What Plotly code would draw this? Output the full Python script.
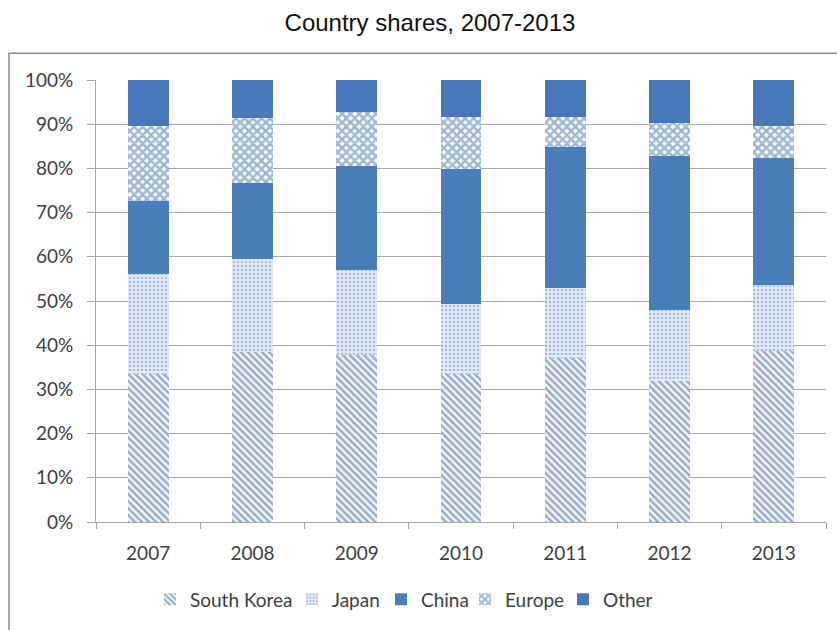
import plotly.graph_objects as go

years = ["2007", "2008", "2009", "2010", "2011", "2012", "2013"]
south_korea = [33.5, 38.4, 37.8, 33.5, 37.2, 31.8, 38.6]
japan = [22.7, 21.2, 19.3, 15.8, 15.8, 16.1, 15.1]
china = [16.5, 17.0, 23.4, 30.6, 31.9, 34.9, 28.7]
europe = [16.8, 14.8, 12.2, 11.7, 6.7, 7.5, 7.1]
other = [10.5, 8.6, 7.3, 8.4, 8.4, 9.7, 10.5]
y_ticks = [0, 10, 20, 30, 40, 50, 60, 70, 80, 90, 100]
y_tick_labels = ["0%", "10%", "20%", "30%", "40%", "50%",
                 "60%", "70%", "80%", "90%", "100%"]

W, H = 837, 630
L, R, T, B = 96, 11, 80, 105
pw, ph = W - L - R, H - T - B

text_font = dict(family="Lato, Open Sans, sans-serif", size=19, color="#404040")

# each legend entry gets its own legend box so the spacing stays tight
legend_text_x = [192, 334, 423, 507, 605]
legend_y = (525 - 603) / ph

series = [
    ("South Korea", south_korea,
     dict(color="#f2f6fb", line=dict(width=0),
          pattern=dict(shape="\\", fgcolor="#3f6193", bgcolor="#f2f6fb",
                       size=5, solidity=0.5))),
    ("Japan", japan,
     dict(color="#dde7f3", line=dict(width=0),
          pattern=dict(shape=".", fgcolor="#6f90c4", bgcolor="#e3ebf6",
                       size=4, solidity=0.35))),
    ("China", china, dict(color="#4a7ebb", line=dict(width=0))),
    ("Europe", europe,
     dict(color="#ffffff", line=dict(width=0),
          pattern=dict(shape="x", fgcolor="#3a6db0", bgcolor="#ffffff",
                       size=6, solidity=0.65))),
    ("Other", other, dict(color="#4778bb", line=dict(width=0))),
]

fig = go.Figure()
legends = {}
for i, (name, vals, marker) in enumerate(series):
    lg = "legend" if i == 0 else f"legend{i + 1}"
    fig.add_trace(go.Bar(x=years, y=vals, name=name, marker=marker, legend=lg))
    legends[lg] = dict(orientation="h", xanchor="left",
                       x=(legend_text_x[i] - 42 - L) / pw,
                       yanchor="middle", y=legend_y,
                       font=text_font, itemwidth=30,
                       bgcolor="rgba(0,0,0,0)")

fig.update_layout(
    width=W, height=H,
    margin=dict(l=L, r=R, t=T, b=B),
    barmode="stack", barnorm="percent", bargap=0.607,
    paper_bgcolor="white", plot_bgcolor="white",
    title=dict(text="Country shares, 2007-2013",
               font=dict(family="Liberation Sans, Arial, sans-serif", size=24, color="#111111"),
               x=430 / W, xanchor="center", y=1 - 23 / H, yanchor="middle"),
    xaxis=dict(type="category", tickson="boundaries", ticks="outside", ticklen=6,
               tickcolor="#a6a6a6", showgrid=False, showline=True,
               linecolor="#a6a6a6", linewidth=1, tickfont=text_font,
               ticklabelstandoff=14),
    yaxis=dict(range=[0, 100], tickmode="array", tickvals=y_ticks,
               ticktext=y_tick_labels,
               ticks="outside", ticklen=8, tickcolor="#a6a6a6",
               showgrid=True, gridcolor="#a8a8a8", gridwidth=1,
               showline=True, linecolor="#a6a6a6", linewidth=1,
               zeroline=False, tickfont=text_font, ticklabelstandoff=10),
    showlegend=True,
    **legends,
)

# outer chart frame
fig.add_shape(type="rect", xref="paper", yref="paper",
              x0=(9 - L) / pw, x1=(845 - L) / pw,
              y0=(T + ph - 640) / ph, y1=(T + ph - 53) / ph,
              line=dict(color="#8c8c8c", width=1.5), fillcolor="rgba(0,0,0,0)",
              layer="below")

fig.write_html("out.html")
